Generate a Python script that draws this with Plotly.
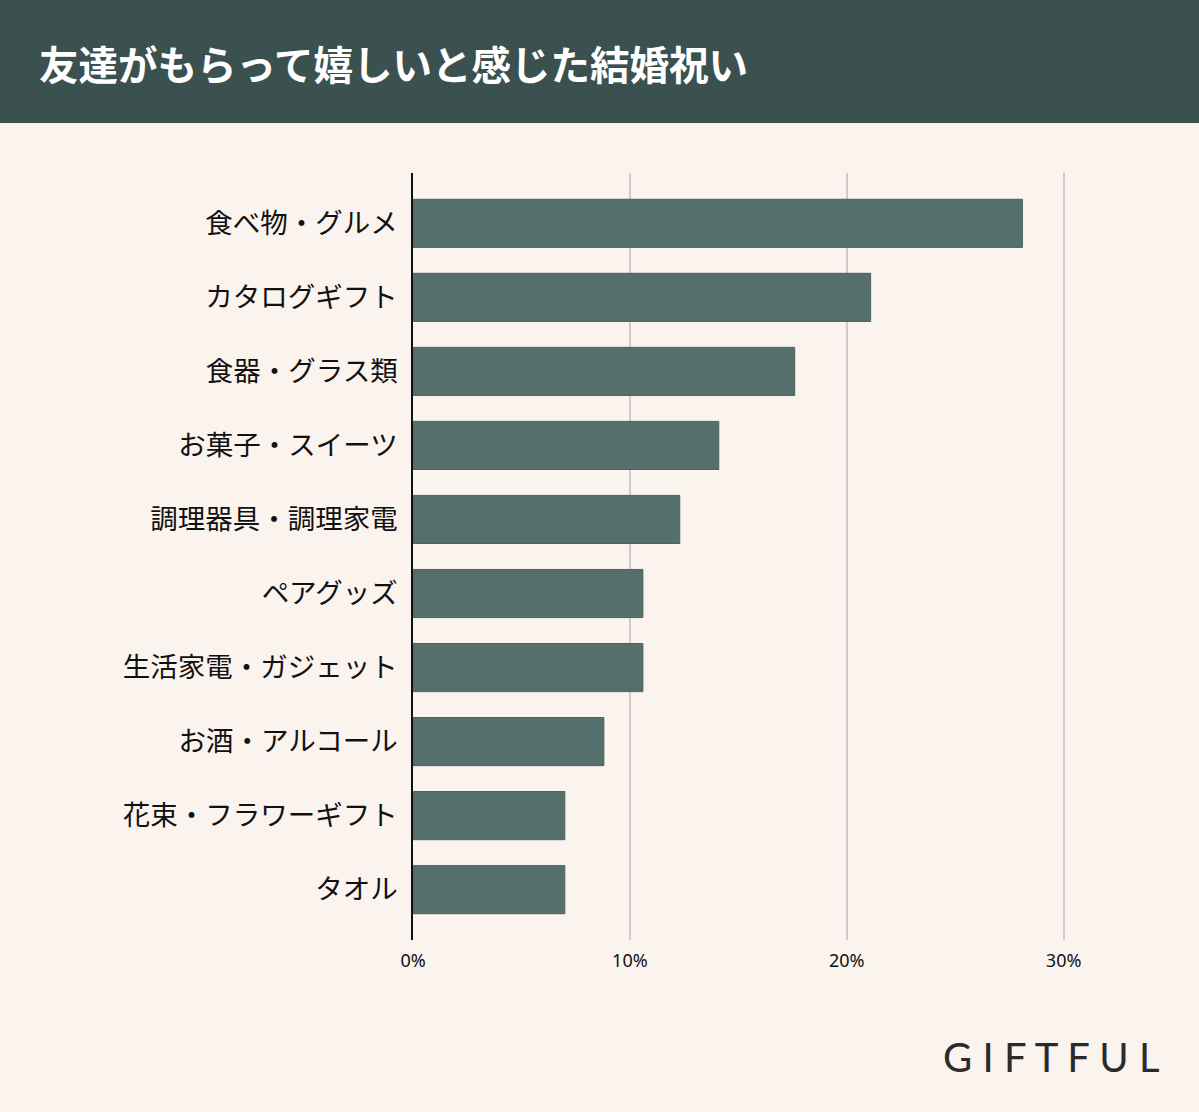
import plotly.graph_objects as go

categories = ["食べ物・グルメ","カタログギフト","食器・グラス類","お菓子・スイーツ","調理器具・調理家電",
              "ペアグッズ","生活家電・ガジェット","お酒・アルコール","花束・フラワーギフト","タオル"]
values = [0.281, 0.211, 0.176, 0.141, 0.123, 0.106, 0.106, 0.088, 0.070, 0.070]
x_ticks = [0, 0.1, 0.2, 0.3]
x_tick_labels = ["0%", "10%", "20%", "30%"]

W, H = 1199, 1112
L, R, T, B = 413, 92, 173, 172
pw, ph = W - L - R, H - T - B

fig = go.Figure(go.Bar(y=categories, x=values, orientation="h",
                       marker=dict(color="#55706c", line=dict(color="#4a6360", width=1)), width=0.65))

fig.update_layout(
    width=W, height=H, margin=dict(l=L, r=R, t=T, b=B),
    paper_bgcolor="#fbf3ee", plot_bgcolor="#fbf3ee", showlegend=False,
    font=dict(family="Noto Sans CJK JP", color="#222"),
    xaxis=dict(range=[0, 0.32], tickvals=x_ticks, ticktext=x_tick_labels,
               showgrid=True, gridcolor="#d3c9c7", gridwidth=1.5, zeroline=False,
               tickfont=dict(size=18, family="Noto Sans", color="#111"), ticks="",
               ticklabelstandoff=8, fixedrange=True),
    yaxis=dict(range=[9.68, -0.68], tickfont=dict(size=27.5, color="#111"), showline=True,
               linecolor="#111", linewidth=1.5, ticks="", ticklabelstandoff=8),
    shapes=[dict(type="rect", xref="paper", yref="paper",
                 x0=-L/pw, x1=1+R/pw, y0=1+(T-123)/ph, y1=1+T/ph,
                 fillcolor="#3a5150", line=dict(width=0), layer="below")],
    annotations=[
        dict(text="<b>友達がもらって嬉しいと感じた結婚祝い</b>", xref="paper", yref="paper",
             x=-(L-37)/pw, y=1+(T-62)/ph, xanchor="left", yanchor="middle", showarrow=False,
             font=dict(size=39.5, color="white", family="Noto Sans CJK JP")),
        dict(text="G I F T F U L", xref="paper", yref="paper",
             x=1+(R-38)/pw, y=-(1057-(H-B))/ph, xanchor="right", yanchor="middle", showarrow=False,
             font=dict(size=40, color="#2a2a2a", family="DejaVu Sans ExtraLight, Lato")),
    ],
)
fig.write_html("out.html", config={"displayModeBar": False},
               post_script="document.body.style.margin='0';")
